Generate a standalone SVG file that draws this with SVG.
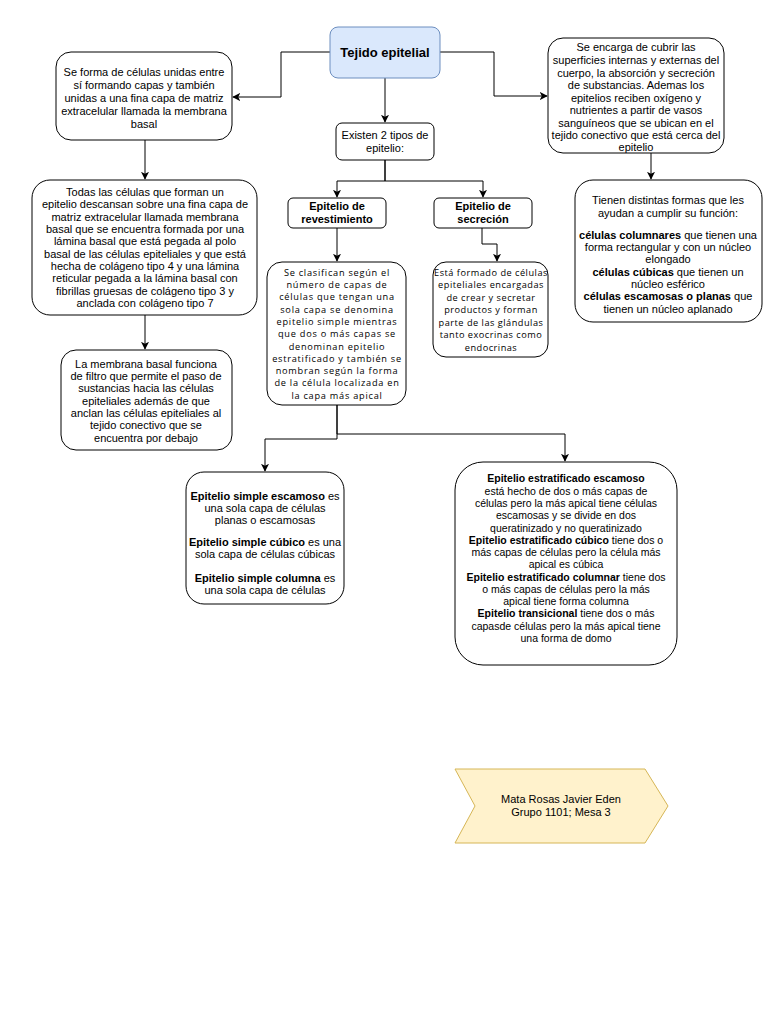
<svg xmlns="http://www.w3.org/2000/svg" width="768" height="1024" viewBox="0 0 768 1024">
<defs>
<marker id="arr" viewBox="0 0 10 10" refX="9" refY="5" markerWidth="8" markerHeight="8" markerUnits="userSpaceOnUse" orient="auto">
<path d="M0,0 L10,5 L0,10 L2.5,5 Z" fill="#000"/>
</marker>
</defs>
<style>
.box{fill:#fff;stroke:#000;stroke-width:1}
.t{font-family:"Liberation Sans",Arial,sans-serif;font-size:11px;fill:#000;text-anchor:middle}
.s{font-size:10.5px}
.o{font-family:"Open Sans","Liberation Sans",sans-serif;font-size:9.2px;letter-spacing:0.75px;fill:#000;text-anchor:middle}
.o2{letter-spacing:0.5px}
.b{font-weight:bold}
.c{fill:none;stroke:#000;stroke-width:1;marker-end:url(#arr)}
</style>
<rect width="768" height="1024" fill="#fff"/>
<g id="connectors">
<path class="c" d="M330,52 H281 V97 H233"/>
<path class="c" d="M440,52 H494 V96 H547"/>
<path class="c" d="M385,78 V122"/>
<path class="c" d="M385,160 V181 H337 V197"/>
<path class="c" d="M385,160 V181 H483 V197"/>
<path class="c" d="M337,228 V261"/>
<path class="c" d="M482,228 V244 H497 V261"/>
<path class="c" d="M337,405 V434 H565 V461"/>
<path class="c" d="M337,405 V439 H265 V471"/>
<path class="c" d="M145,140 V179"/>
<path class="c" d="M145,315 V349"/>
<path class="c" d="M651,153 V179"/>
</g>
<g id="tejido">
<rect x="330" y="27" width="110" height="51" rx="8" fill="#dae8fc" stroke="#6c8ebf"/>
<text class="t b" x="385" y="57" style="font-size:13px">Tejido epitelial</text>
</g>
<g id="forma">
<rect class="box" x="56" y="52" width="176" height="88" rx="15"/>
<text class="t" x="144" y="76">Se forma de células unidas entre</text>
<text class="t" x="144" y="89">sí formando capas y también</text>
<text class="t" x="144" y="102">unidas a una fina capa de matriz</text>
<text class="t" x="144" y="115">extracelular llamada la membrana</text>
<text class="t" x="144" y="128">basal</text>
</g>
<g id="encarga">
<rect class="box" x="548" y="38" width="176" height="115" rx="15"/>
<text class="t" x="636" y="51">Se encarga de cubrir las</text>
<text class="t" x="636" y="64">superficies internas y externas del</text>
<text class="t" x="636" y="77">cuerpo, la absorción y secreción</text>
<text class="t" x="636" y="89">de substancias. Ademas  los</text>
<text class="t" x="636" y="102">epitelios reciben oxígeno y</text>
<text class="t" x="636" y="114">nutrientes a partir de vasos</text>
<text class="t" x="636" y="127">sanguíneos que se ubican en el</text>
<text class="t" x="636" y="139">tejido conectivo que está cerca del</text>
<text class="t" x="636" y="151">epitelio</text>
</g>
<g id="existen">
<rect class="box" x="336" y="123" width="98" height="37" rx="6"/>
<text class="t" x="385" y="139">Existen 2 tipos de</text>
<text class="t" x="385" y="152">epitelio:</text>
</g>
<g id="revestimiento">
<rect class="box" x="288" y="198" width="98" height="30" rx="5"/>
<text class="t b" x="337" y="210">Epitelio de</text>
<text class="t b" x="337" y="223">revestimiento</text>
</g>
<g id="secrecion">
<rect class="box" x="434" y="198" width="98" height="30" rx="5"/>
<text class="t b" x="483" y="210">Epitelio de</text>
<text class="t b" x="483" y="223">secreción</text>
</g>
<g id="todas">
<rect class="box" x="32" y="180" width="225" height="135" rx="18"/>
<text class="t" x="145" y="196">Todas las células que forman un</text>
<text class="t" x="145" y="208">epitelio descansan sobre una fina capa de</text>
<text class="t" x="145" y="221">matriz extracelular llamada membrana</text>
<text class="t" x="145" y="233">basal que se encuentra formada por una</text>
<text class="t" x="145" y="245">lámina basal que está pegada al polo</text>
<text class="t" x="145" y="258">basal de las células epiteliales y que está</text>
<text class="t" x="145" y="270">hecha de colágeno tipo 4 y una lámina</text>
<text class="t" x="145" y="282">reticular pegada a la lámina basal con</text>
<text class="t" x="145" y="295">fibrillas gruesas de colágeno tipo 3 y</text>
<text class="t" x="145" y="307">anclada con colágeno tipo 7</text>
</g>
<g id="membrana">
<rect class="box" x="61" y="350" width="171" height="100" rx="15"/>
<text class="t" x="146" y="368">La membrana basal funciona</text>
<text class="t" x="146" y="380">de filtro que permite el paso de</text>
<text class="t" x="146" y="392">sustancias hacia las células</text>
<text class="t" x="146" y="405">epiteliales además de que</text>
<text class="t" x="146" y="417">anclan las células epiteliales al</text>
<text class="t" x="146" y="429">tejido conectivo que se</text>
<text class="t" x="146" y="442">encuentra por debajo</text>
</g>
<g id="clasifican">
<rect class="box" x="267" y="262" width="139" height="143" rx="15"/>
<text class="o" x="337" y="276">Se clasifican según el</text>
<text class="o" x="337" y="288">número de capas de</text>
<text class="o" x="337" y="300">células que tengan una</text>
<text class="o" x="337" y="313">sola capa se denomina</text>
<text class="o" x="337" y="325">epitelio simple mientras</text>
<text class="o" x="337" y="337">que dos o más capas se</text>
<text class="o" x="337" y="350">denominan epitelio</text>
<text class="o" x="337" y="362">estratificado y también se</text>
<text class="o" x="337" y="374">nombran según la forma</text>
<text class="o" x="337" y="386">de la célula localizada en</text>
<text class="o" x="337" y="399">la capa más apical</text>
</g>
<g id="formado">
<rect class="box" x="433" y="262" width="115" height="95" rx="13"/>
<text class="o o2" x="491" y="276">Está formado de células</text>
<text class="o o2" x="491" y="288">epiteliales encargadas</text>
<text class="o o2" x="491" y="301">de crear y secretar</text>
<text class="o o2" x="491" y="313">productos y forman</text>
<text class="o o2" x="491" y="326">parte de las glándulas</text>
<text class="o o2" x="491" y="338">tanto exocrinas como</text>
<text class="o o2" x="491" y="351">endocrinas</text>
</g>
<g id="tienen">
<rect class="box" x="575" y="180" width="187" height="142" rx="18"/>
<text class="t" x="668" y="204">Tienen distintas formas que les</text>
<text class="t" x="668" y="217">ayudan a cumplir su función:</text>
<text class="t" x="668" y="239"><tspan class="b">células columnares</tspan> que tienen una</text>
<text class="t" x="668" y="251">forma rectangular y con un núcleo</text>
<text class="t" x="668" y="263">elongado</text>
<text class="t" x="668" y="276"><tspan class="b">células cúbicas</tspan> que tienen un</text>
<text class="t" x="668" y="288">núcleo esférico</text>
<text class="t" x="668" y="300"><tspan class="b">células escamosas o planas</tspan> que</text>
<text class="t" x="668" y="313">tienen un núcleo aplanado</text>
</g>
<g id="simple">
<rect class="box" x="186" y="472" width="158" height="132" rx="18"/>
<text class="t" x="265" y="500"><tspan class="b">Epitelio simple escamoso</tspan> es</text>
<text class="t" x="265" y="512">una sola capa de células</text>
<text class="t" x="265" y="524">planas o escamosas</text>
<text class="t" x="265" y="546"><tspan class="b">Epitelio simple cúbico</tspan> es una</text>
<text class="t" x="265" y="558">sola capa de células cúbicas</text>
<text class="t" x="265" y="582"><tspan class="b">Epitelio simple columna</tspan> es</text>
<text class="t" x="265" y="594">una sola capa de células</text>
</g>
<g id="estratificado">
<rect class="box" x="455" y="462" width="222" height="203" rx="28"/>
<text class="t s b" x="566" y="482">Epitelio estratificado escamoso</text>
<text class="t s" x="566" y="495">está hecho de dos o más capas de</text>
<text class="t s" x="566" y="507">células pero la más apical tiene células</text>
<text class="t s" x="566" y="519">escamosas y se divide en dos</text>
<text class="t s" x="566" y="532">queratinizado y no queratinizado</text>
<text class="t s" x="566" y="544"><tspan class="b">Epitelio estratificado cúbico</tspan> tiene dos o</text>
<text class="t s" x="566" y="556">más capas de células pero la célula más</text>
<text class="t s" x="566" y="568">apical es cúbica</text>
<text class="t s" x="566" y="581"><tspan class="b">Epitelio estratificado columnar</tspan> tiene dos</text>
<text class="t s" x="566" y="593">o más capas de células pero la más</text>
<text class="t s" x="566" y="605">apical tiene forma columna</text>
<text class="t s" x="566" y="617"><tspan class="b">Epitelio transicional</tspan> tiene dos o más</text>
<text class="t s" x="566" y="630">capasde células pero la más apical tiene</text>
<text class="t s" x="566" y="642">una forma de domo</text>
</g>
<g id="autor">
<polygon points="455,769 645,769 668,806 645,843 455,843 475,806" fill="#fff2cc" stroke="#d6b656"/>
<text class="t" x="561" y="803">Mata Rosas Javier Eden</text>
<text class="t" x="561" y="816">Grupo 1101; Mesa 3</text>
</g>
</svg>
